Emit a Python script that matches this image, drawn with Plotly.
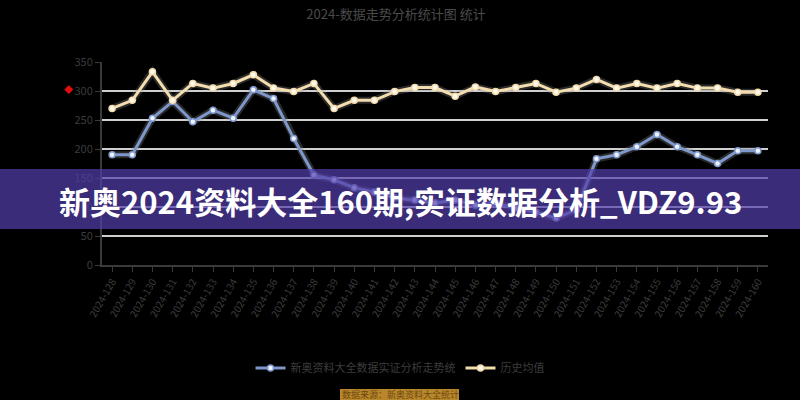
import plotly.graph_objects as go

# ---- data ----
categories = [f"2024-{i:03d}" for i in range(128, 161)]
series_blue_name = "新奥资料大全数据实证分析走势统"
series_cream_name = "历史均值"
blue_values = [190, 190, 253, 282, 247, 267, 253, 302, 287, 218,
               155, 147, 133, 126, 116, 112, 107, 112, 103, 107,
               98, 91, 81, 95, 183, 190, 204, 225, 204, 190,
               175, 197, 197]
cream_values = [270, 284, 333, 284, 313, 305, 313, 328, 305, 299,
                313, 270, 284, 284, 299, 306, 306, 291, 307, 299,
                306, 313, 298, 305, 320, 305, 313, 305, 313, 305,
                305, 298, 298]
y_ticks = [0, 50, 100, 150, 200, 250, 300, 350]
title_text = "2024-数据走势分析统计图 统计"
banner_text = "新奥2024资料大全160期,实证数据分析_VDZ9.93"
source_text = "数据来源：新奥资料大全统计"

BLUE = "#7e98cc"
CREAM = "#f3dcae"
TEXT_GRAY = "#3c3c3c"

fig = go.Figure()

# soft shadows under the lines
for vals in (blue_values, cream_values):
    fig.add_trace(go.Scatter(
        x=categories, y=vals, mode="lines",
        line=dict(color="rgba(140,140,140,0.3)", width=7),
        hoverinfo="skip", showlegend=False))

fig.add_trace(go.Scatter(
    x=categories, y=blue_values, name=series_blue_name,
    mode="lines+markers",
    line=dict(color=BLUE, width=3),
    marker=dict(symbol="circle", size=6, color="#eef3ff",
                line=dict(color=BLUE, width=1.5))))
fig.add_trace(go.Scatter(
    x=categories, y=cream_values, name=series_cream_name,
    mode="lines+markers",
    line=dict(color=CREAM, width=3),
    marker=dict(symbol="circle", size=6, color="#fffaf0",
                line=dict(color=CREAM, width=1.5))))

fig.update_layout(
    width=800, height=400,
    paper_bgcolor="black", plot_bgcolor="black",
    margin=dict(l=102, r=32, t=62, b=135, autoexpand=False),
    font=dict(family="Noto Sans CJK SC, Noto Sans, sans-serif",
              color=TEXT_GRAY, size=11),
    title=dict(text=title_text, x=0.495, xanchor="center", y=0.975,
               yanchor="top", font=dict(size=13, color="#4a4a4a")),
    showlegend=True,
    legend=dict(orientation="h", xref="container", x=0.5,
                xanchor="center", yref="container", y=0.08,
                yanchor="middle",
                font=dict(size=11, color=TEXT_GRAY),
                bgcolor="rgba(0,0,0,0)", traceorder="normal"),
    xaxis=dict(type="category", range=[-0.5, len(categories) - 0.5],
               showgrid=False, showline=True, linecolor="#3a3a3a",
               linewidth=2, ticks="outside", tickcolor="#3a3a3a",
               ticklen=5, tickangle=-60,
               tickfont=dict(size=10, color=TEXT_GRAY), zeroline=False),
    yaxis=dict(range=[0, 350], tickvals=y_ticks, showgrid=True,
               gridcolor="#cfcfcf", gridwidth=2, showline=True,
               linecolor="#3a3a3a", linewidth=2, ticks="outside",
               tickcolor="#3a3a3a", ticklen=5,
               tickfont=dict(size=11, color=TEXT_GRAY), zeroline=False),
)

# red icon by the y axis
fig.add_annotation(xref="paper", yref="paper", x=-0.06, y=0.905,
                   text="◆", showarrow=False,
                   font=dict(size=9, color="#e01010"))

# purple banner overlay
fig.add_shape(type="rect", xref="paper", yref="paper",
              x0=-0.2, x1=1.1, y0=(265 - 229) / 203,
              y1=(265 - 169) / 203,
              fillcolor="rgba(84,62,172,0.7)", line=dict(width=0),
              layer="above")
fig.add_annotation(xref="paper", yref="paper", x=(400 - 102) / 666,
                   y=(265 - 200) / 203, text=f"<b>{banner_text}</b>",
                   showarrow=False, xanchor="center", yanchor="middle",
                   font=dict(size=31, color="white",
                             family="Noto Sans CJK SC"))

# gold source box at bottom
fig.add_shape(type="rect", xref="paper", yref="paper",
              x0=(340 - 102) / 666, x1=(459 - 102) / 666,
              y0=(265 - 400) / 203, y1=(265 - 389) / 203,
              fillcolor="#b8862b", line=dict(width=0), layer="above")
fig.add_annotation(xref="paper", yref="paper", x=(400 - 102) / 666,
                   y=(265 - 394.5) / 203, text=source_text,
                   showarrow=False, xanchor="center", yanchor="middle",
                   font=dict(size=9, color="#6e4a10"))

fig.write_html(
    "out.html",
    config={"displayModeBar": False},
    post_script="document.body.style.margin='0';"
                "document.body.style.background='black';")
